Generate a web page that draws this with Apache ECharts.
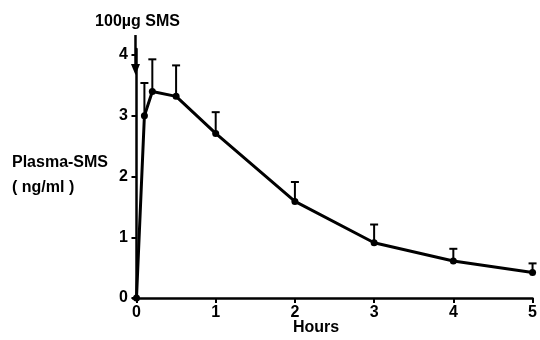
<!DOCTYPE html>
<html>
<head>
<meta charset="utf-8">
<script src="https://cdn.jsdelivr.net/npm/echarts@6/dist/echarts.min.js"></script>
<style>html,body{margin:0;padding:0;background:#fff}#c{width:540px;height:340px}</style>
</head>
<body>
<div id="c"></div>
<script>
const hours = [0, 0.1, 0.2, 0.5, 1, 2, 3, 4, 5];
const sms = [0, 3.0, 3.4, 3.32, 2.71, 1.59, 0.91, 0.61, 0.42];
const smsUpper = [null, 3.54, 3.93, 3.83, 3.06, 1.91, 1.21, 0.81, 0.57];
const xTicks = [0, 1, 2, 3, 4, 5];
const yTicks = [0, 1, 2, 3, 4];
const doseLabel = '100µg SMS';
const doseArrow = [[0, 4.33, 3.67]];

const font = '"Liberation Sans", Arial, sans-serif';
const chart = echarts.init(document.getElementById('c'));
const lineData = hours.map((h, i) => [h, sms[i]]);
const errData = hours.map((h, i) => [h, sms[i], smsUpper[i]]).filter(d => d[2] != null);

chart.setOption({
  animation: false,
  grid: {left: 133, right: 7, top: 49, bottom: 42},
  xAxis: {
    type: 'value', min: -0.044, max: 5,
    axisLine: {lineStyle: {color: '#000', width: 2.5}},
    axisTick: {customValues: xTicks, length: 5, lineStyle: {color: '#000', width: 2}},
    axisLabel: {customValues: xTicks, margin: 7, color: '#000', fontSize: 16, fontWeight: 'bold', fontFamily: font},
    splitLine: {show: false}
  },
  yAxis: {
    type: 'value', min: 0, max: 4.1,
    axisLine: {show: true, lineStyle: {color: '#000', width: 2.5}},
    axisTick: {show: true, customValues: yTicks, length: 5, lineStyle: {color: '#000', width: 2}},
    axisLabel: {customValues: yTicks, margin: 5, color: '#000', fontSize: 16, fontWeight: 'bold', fontFamily: font},
    splitLine: {show: false}
  },
  graphic: [
    {type: 'text', left: 12, top: 155, style: {text: 'Plasma-SMS', font: 'bold 16px ' + font, fill: '#000'}},
    {type: 'text', left: 12, top: 180, style: {text: '( ng/ml )', font: 'bold 16px ' + font, fill: '#000'}},
    {type: 'text', left: 293, top: 320, style: {text: 'Hours', font: 'bold 16px ' + font, fill: '#000'}}
  ],
  series: [
    {
      type: 'line', data: lineData, symbol: 'circle', symbolSize: 7,
      itemStyle: {color: '#000'}, lineStyle: {color: '#000', width: 3},
      z: 3
    },
    {
      type: 'custom', data: errData,
      renderItem: function (params, api) {
        const p = api.coord([api.value(0), api.value(1)]);
        const u = api.coord([api.value(0), api.value(2)]);
        const w = 4;
        return {type: 'group', children: [
          {type: 'line', shape: {x1: p[0], y1: p[1], x2: u[0], y2: u[1]}, style: {stroke: '#000', lineWidth: 2}},
          {type: 'line', shape: {x1: u[0] - w, y1: u[1], x2: u[0] + w, y2: u[1]}, style: {stroke: '#000', lineWidth: 2}}
        ]};
      },
      z: 2
    },
    {
      type: 'custom', data: doseArrow, clip: false,
      renderItem: function (params, api) {
        const a = api.coord([api.value(0), api.value(1)]);
        const b = api.coord([api.value(0), api.value(2)]);
        const x = a[0] - 1;
        const head = 11, hw = 4.5;
        return {type: 'group', children: [
          {type: 'line', shape: {x1: x, y1: a[1], x2: x, y2: b[1] - head + 1}, style: {stroke: '#000', lineWidth: 2.5}},
          {type: 'polygon', shape: {points: [[x - hw, b[1] - head], [x + hw, b[1] - head], [x, b[1]]]}, style: {fill: '#000'}},
          {type: 'text', x: x + 2, y: a[1] - 5, style: {text: doseLabel, font: 'bold 16px ' + font, fill: '#000', align: 'center', verticalAlign: 'bottom'}}
        ]};
      },
      z: 4
    }
  ]
});
</script>
</body>
</html>
